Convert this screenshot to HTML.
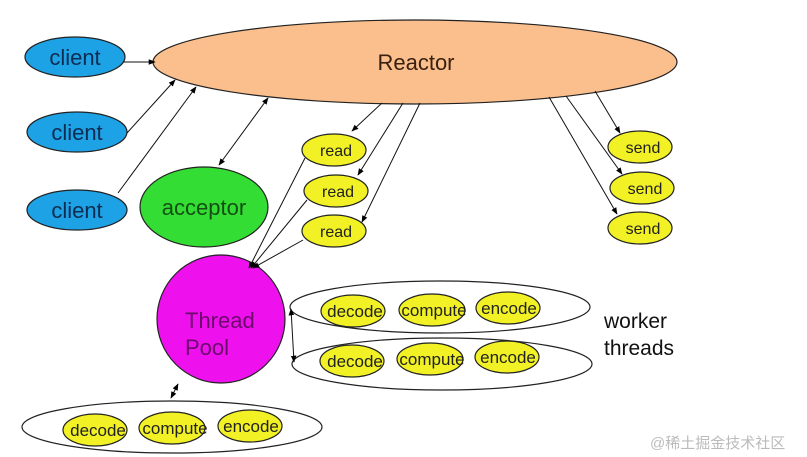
<!DOCTYPE html>
<html><head><meta charset="utf-8"><style>
html,body{margin:0;padding:0;background:#fff;width:807px;height:457px;overflow:hidden}
text{font-family:"Liberation Sans","Noto Sans CJK SC",sans-serif}
</style></head><body>
<svg width="807" height="457" viewBox="0 0 807 457" xmlns="http://www.w3.org/2000/svg">
<defs>
<marker id="a" viewBox="0 0 10 10" refX="9" refY="5" markerWidth="7" markerHeight="7" orient="auto-start-reverse"><path d="M0,1 L10,5 L0,9 z" fill="#000"/></marker>
</defs>
<g stroke="#222" stroke-width="1.2">
<ellipse cx="415" cy="62" rx="262" ry="42" fill="#fbbf8d"/>
<ellipse cx="75" cy="57" rx="50" ry="20" fill="#1ea2e6"/>
<ellipse cx="77" cy="132" rx="50" ry="20" fill="#1ea2e6"/>
<ellipse cx="77" cy="210" rx="50" ry="20" fill="#1ea2e6"/>
<ellipse cx="204" cy="207" rx="64" ry="40" fill="#33dd33"/>
<ellipse cx="334" cy="150" rx="32" ry="16" fill="#f1f126"/>
<ellipse cx="336" cy="191" rx="32" ry="16" fill="#f1f126"/>
<ellipse cx="334" cy="231" rx="32" ry="16" fill="#f1f126"/>
<ellipse cx="640" cy="147" rx="32" ry="16" fill="#f1f126"/>
<ellipse cx="642" cy="188" rx="32" ry="16" fill="#f1f126"/>
<ellipse cx="640" cy="228" rx="32" ry="16" fill="#f1f126"/>
<circle cx="221" cy="319" r="64" fill="#ee11ee"/>
<ellipse cx="440" cy="307" rx="150" ry="26" fill="none"/>
<ellipse cx="442" cy="364" rx="150" ry="26" fill="none"/>
<ellipse cx="172" cy="427" rx="150" ry="26" fill="none"/>
<ellipse cx="353" cy="311" rx="32" ry="16" fill="#f1f126"/>
<ellipse cx="432" cy="310" rx="33" ry="16" fill="#f1f126"/>
<ellipse cx="508" cy="308" rx="32" ry="16" fill="#f1f126"/>
<ellipse cx="352" cy="361" rx="32" ry="16" fill="#f1f126"/>
<ellipse cx="430" cy="359" rx="33" ry="16" fill="#f1f126"/>
<ellipse cx="507" cy="357" rx="32" ry="16" fill="#f1f126"/>
<ellipse cx="95" cy="430" rx="32" ry="16" fill="#f1f126"/>
<ellipse cx="172" cy="428" rx="33" ry="16" fill="#f1f126"/>
<ellipse cx="250" cy="426" rx="32" ry="16" fill="#f1f126"/>
</g>
<g stroke="#111" stroke-width="1" fill="none">
<line x1="123" y1="62" x2="155" y2="62" marker-end="url(#a)"/>
<line x1="127" y1="133" x2="175" y2="80" marker-end="url(#a)"/>
<line x1="118" y1="193" x2="196" y2="87" marker-end="url(#a)"/>
<line x1="219" y1="165" x2="268" y2="98" marker-start="url(#a)" marker-end="url(#a)"/>
<line x1="382" y1="103" x2="352" y2="131" marker-end="url(#a)"/>
<line x1="403" y1="103" x2="358" y2="175" marker-end="url(#a)"/>
<line x1="420" y1="103" x2="362" y2="222" marker-end="url(#a)"/>
<line x1="305" y1="158" x2="249" y2="268" marker-end="url(#a)"/>
<line x1="307" y1="200" x2="251" y2="268" marker-end="url(#a)"/>
<line x1="303" y1="240" x2="253" y2="268" marker-end="url(#a)"/>
<line x1="595" y1="91" x2="620" y2="133" marker-end="url(#a)"/>
<line x1="566" y1="96" x2="622" y2="174" marker-end="url(#a)"/>
<line x1="549" y1="97" x2="617" y2="214" marker-end="url(#a)"/>
<line x1="291" y1="309" x2="294" y2="362" marker-start="url(#a)" marker-end="url(#a)"/>
<line x1="178" y1="384" x2="171" y2="398" marker-start="url(#a)" marker-end="url(#a)"/>
</g>
<g text-anchor="middle" font-size="22" fill="#0d2c52">
<text x="75" y="65">client</text>
<text x="77" y="140">client</text>
<text x="77" y="218">client</text>
</g>
<text x="416" y="70" text-anchor="middle" font-size="22" fill="#3a2010">Reactor</text>
<text x="204" y="215" text-anchor="middle" font-size="22" fill="#134f13">acceptor</text>
<text x="185" y="328" font-size="22" fill="#6a0a6a">Thread</text>
<text x="185" y="355" font-size="22" fill="#6a0a6a">Pool</text>
<g text-anchor="middle" font-size="16" fill="#222">
<text x="336" y="156">read</text><text x="338" y="197">read</text><text x="336" y="237">read</text>
<text x="643" y="153">send</text><text x="645" y="194">send</text><text x="643" y="234">send</text>
</g>
<g text-anchor="middle" font-size="17" fill="#222">
<text x="355" y="317">decode</text><text x="434" y="316">compute</text><text x="509" y="314">encode</text>
<text x="355" y="367">decode</text><text x="432" y="365">compute</text><text x="508" y="363">encode</text>
<text x="98" y="436">decode</text><text x="175" y="434">compute</text><text x="251" y="432">encode</text>
</g>
<text x="604" y="328" font-size="21" fill="#111">worker</text>
<text x="604" y="355" font-size="21" fill="#111">threads</text>
<text x="650" y="448" font-size="15" fill="#bbb">@稀土掘金技术社区</text>
</svg>
</body></html>
